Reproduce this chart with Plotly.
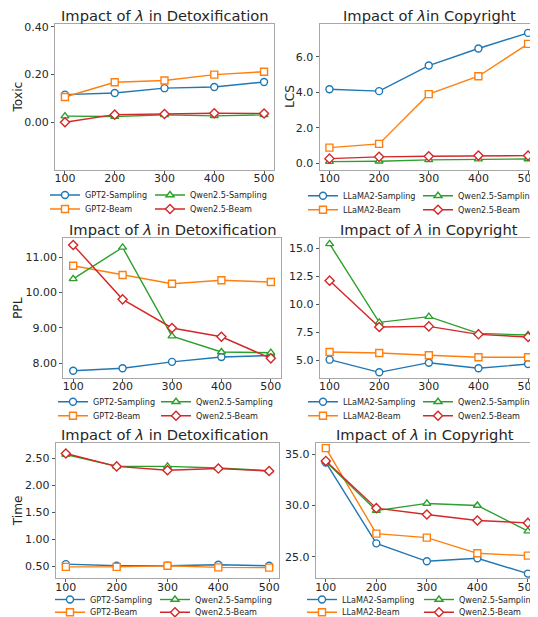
import plotly.graph_objects as go

# The page body has an 8px margin, so the figure is sized to fit the window
OFF = 8
W, H = 538 - OFF, 617 - OFF

lam = [100, 200, 300, 400, 500]
x_ticks = [100, 200, 300, 400, 500]

# Detoxification - Toxic
gpt2_samp_toxic = [0.116, 0.123, 0.143, 0.148, 0.169]
gpt2_beam_toxic = [0.106, 0.168, 0.175, 0.200, 0.212]
qwen_samp_toxic = [0.026, 0.024, 0.031, 0.027, 0.031]
qwen_beam_toxic = [0.000, 0.032, 0.035, 0.038, 0.037]

# Copyright - LCS
llama_samp_lcs = [4.17, 4.06, 5.50, 6.46, 7.34]
llama_beam_lcs = [0.88, 1.09, 3.89, 4.90, 6.72]
qwen_samp_lcs = [0.09, 0.11, 0.19, 0.23, 0.24]
qwen_beam_lcs = [0.26, 0.36, 0.39, 0.43, 0.43]

# Detoxification - PPL
gpt2_samp_ppl = [7.79, 7.86, 8.04, 8.18, 8.22]
gpt2_beam_ppl = [10.76, 10.50, 10.25, 10.35, 10.30]
qwen_samp_ppl = [10.39, 11.28, 8.77, 8.32, 8.30]
qwen_beam_ppl = [11.35, 9.81, 9.00, 8.75, 8.14]

# Copyright - PPL
llama_samp_ppl = [5.06, 3.93, 4.79, 4.29, 4.67]
llama_beam_ppl = [5.74, 5.65, 5.45, 5.27, 5.27]
qwen_samp_ppl_c = [15.39, 8.39, 8.90, 7.41, 7.26]
qwen_beam_ppl_c = [12.11, 7.97, 8.03, 7.32, 7.08]

# Detoxification - Time
gpt2_samp_time = [0.54, 0.51, 0.51, 0.53, 0.51]
gpt2_beam_time = [0.49, 0.49, 0.51, 0.48, 0.475]
qwen_samp_time = [2.57, 2.35, 2.35, 2.32, 2.27]
qwen_beam_time = [2.59, 2.35, 2.28, 2.31, 2.265]

# Copyright - Time
llama_samp_time = [34.2, 26.3, 24.55, 24.85, 23.35]
llama_beam_time = [35.6, 27.25, 26.86, 25.33, 25.1]
qwen_samp_time_c = [34.3, 29.5, 30.2, 30.0, 27.5]
qwen_beam_time_c = [34.35, 29.74, 29.12, 28.53, 28.3]

detox_names = ["GPT2-Sampling", "GPT2-Beam", "Qwen2.5-Sampling", "Qwen2.5-Beam"]
copy_names = ["LLaMA2-Sampling", "LLaMA2-Beam", "Qwen2.5-Sampling", "Qwen2.5-Beam"]
colors = ["#1f77b4", "#ff7f0e", "#2ca02c", "#d62728"]
symbols = ["circle", "square", "triangle-up", "diamond"]

FONT = "DejaVu Sans"
TXT = "#262626"
SPINE = "#a8a8a8"


def sx(px):
    return (px - OFF) / W


def sy(py):
    return 1 - (py - OFF) / H


panels = [
    dict(title="Impact of <i>λ</i> in Detoxification", ylabel="Toxic", names=detox_names,
         series=[gpt2_samp_toxic, gpt2_beam_toxic, qwen_samp_toxic, qwen_beam_toxic],
         box=(55, 274, 24, 170), yr=[-0.2, 0.412], ticks=[0.0, 0.2, 0.4], fmt=".2f", mirror=True,
         ylab_x=17.5, rows=(195, 209), cols=(45, 150)),
    dict(title="Impact of <i>λ</i>in Copyright", ylabel="LCS", names=copy_names,
         series=[llama_samp_lcs, llama_beam_lcs, qwen_samp_lcs, qwen_beam_lcs],
         box=(319.5, 538, 24, 170), yr=[-0.38, 7.84], ticks=[0, 2, 4, 6], fmt=".1f", mirror=False,
         ylab_x=290, rows=(195.7, 209.7), cols=(303, 418)),
    dict(title="Impact of <i>λ</i> in Detoxification", ylabel="PPL", names=detox_names,
         series=[gpt2_samp_ppl, gpt2_beam_ppl, qwen_samp_ppl, qwen_beam_ppl],
         box=(63.3, 280.7, 238.3, 377.7), yr=[7.592, 11.538], ticks=[8, 9, 10, 11], fmt=".2f", mirror=True,
         ylab_x=18, rows=(401.7, 415.7), cols=(53, 156)),
    dict(title="Impact of <i>λ</i> in Copyright", ylabel=None, names=copy_names,
         series=[llama_samp_ppl, llama_beam_ppl, qwen_samp_ppl_c, qwen_beam_ppl_c],
         box=(319.7, 538, 238.3, 377.7), yr=[3.45, 15.89], ticks=[5, 7.5, 10, 12.5, 15], fmt=".1f", mirror=False,
         ylab_x=None, rows=(401.7, 415.7), cols=(303, 418)),
    dict(title="Impact of <i>λ</i> in Detoxification", ylabel="Time", names=detox_names,
         series=[gpt2_samp_time, gpt2_beam_time, qwen_samp_time, qwen_beam_time],
         box=(55.7, 279.3, 443.3, 578.3), yr=[0.278, 2.778], ticks=[0.5, 1.0, 1.5, 2.0, 2.5], fmt=".2f", mirror=True,
         ylab_x=17.5, rows=(599.5, 612.3), cols=(50, 155)),
    dict(title="Impact of <i>λ</i> in Copyright", ylabel=None, names=copy_names,
         series=[llama_samp_time, llama_beam_time, qwen_samp_time_c, qwen_beam_time_c],
         box=(315.7, 538, 443.3, 578.3), yr=[22.89, 36.07], ticks=[25, 30, 35], fmt=".1f", mirror=False,
         ylab_x=None, rows=(599.5, 612.3), cols=(302, 419)),
]

fig = go.Figure()
annotations = []
layout = {}
leg_id = 0

for i, p in enumerate(panels):
    n = i + 1
    xa = "x" if n == 1 else f"x{n}"
    ya = "y" if n == 1 else f"y{n}"
    xk = "xaxis" if n == 1 else f"xaxis{n}"
    yk = "yaxis" if n == 1 else f"yaxis{n}"
    x0, x1, t, b = p["box"]
    dom_x = [sx(x0), min(sx(x1), 1.0)]
    dom_y = [sy(b), sy(t)]
    layout[xk] = dict(domain=dom_x, anchor=ya, range=[80, 520], tickvals=x_ticks,
                      showline=True, linecolor=SPINE, linewidth=1, mirror=True,
                      ticks="outside", ticklen=3, tickcolor="#555", tickwidth=1,
                      ticklabelstandoff=-5, ticklabeloverflow="allow",
                      showgrid=False, zeroline=False,
                      tickfont=dict(family=FONT, size=11, color=TXT))
    layout[yk] = dict(domain=dom_y, anchor=xa, range=p["yr"], tickvals=p["ticks"],
                      tickformat=p["fmt"], showline=True, linecolor=SPINE, linewidth=1,
                      mirror=p["mirror"], ticks="outside", ticklen=3, tickcolor="#555", tickwidth=1,
                      ticklabeloverflow="allow",
                      showgrid=False, zeroline=False,
                      tickfont=dict(family=FONT, size=11, color=TXT))
    for k in range(4):
        leg_id += 1
        lid = "legend" if leg_id == 1 else f"legend{leg_id}"
        col = 0 if k < 2 else 1
        row = k % 2
        layout[lid] = dict(x=sx(p["cols"][col]), y=sy(p["rows"][row] - 14.5),
                           xref="paper", yref="paper",
                           xanchor="left", yanchor="top", orientation="v",
                           bgcolor="rgba(0,0,0,0)", borderwidth=0, itemwidth=30,
                           font=dict(family=FONT, size=8.1, color=TXT))
        fig.add_trace(go.Scatter(
            x=lam, y=p["series"][k], name=p["names"][k], mode="lines+markers",
            xaxis=xa, yaxis=ya,
            line=dict(color=colors[k], width=1.4),
            marker=dict(symbol=symbols[k], size=7, color="white",
                        line=dict(color=colors[k], width=1.4)),
            legend=lid, showlegend=True,
        ))
    annotations.append(dict(text=p["title"], xref="paper", yref="paper",
                            x=sx(x0 + 109.5), y=sy(t - 8.5),
                            xanchor="center", yanchor="middle", showarrow=False,
                            font=dict(family=FONT, size=14.7, color=TXT)))
    if p["ylabel"]:
        annotations.append(dict(text=p["ylabel"], xref="paper", yref="paper",
                                x=sx(p["ylab_x"]), y=sy((t + b) / 2), textangle=-90,
                                xanchor="center", yanchor="middle", showarrow=False,
                                font=dict(family=FONT, size=12.2, color=TXT)))

fig.update_layout(
    width=W, height=H,
    margin=dict(l=0, r=0, t=0, b=0, autoexpand=False),
    paper_bgcolor="white", plot_bgcolor="white",
    annotations=annotations,
    **layout,
)

fig.write_html("out.html")
